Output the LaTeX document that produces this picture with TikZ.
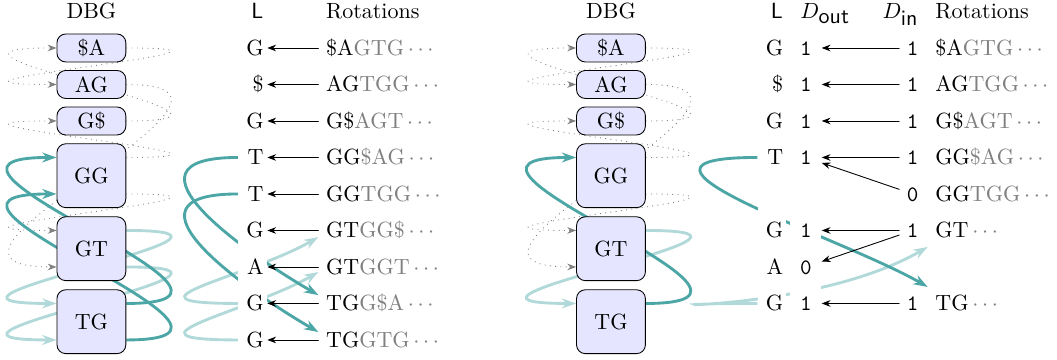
\documentclass[tikz,border=0pt]{standalone}
\usetikzlibrary{backgrounds,arrows.meta}
\colorlet{dteal}{teal!70}
\colorlet{lteal}{teal!30}
\newcommand{\rotn}[2]{#1\textcolor{gray}{#2\,$\cdots$}}
\begin{document}
\begin{tikzpicture}[>={Stealth[length=4pt,width=3pt]},line join=round,line cap=round,x=1cm,y=0.583cm,
	kmer/.style={draw,rounded corners=4pt,fill=blue!10,minimum width=1.1cm,minimum height=0.447cm,inner sep=0pt},
	kmerbig/.style={kmer,minimum height=1.02cm},
	txt/.style={text height=7.5pt,text depth=1pt},
	lcol/.style={txt,fill=white,anchor=east,text width=10pt,align=right,inner xsep=1.5pt,minimum height=17pt},
	ocol/.style={txt,fill=white,anchor=west,minimum width=14pt,minimum height=17pt,font=\ttfamily},
	icol/.style={txt,anchor=east,font=\ttfamily},
	rotcol/.style={txt,anchor=west},
	dbgedge/.style={->,gray,dotted},
	lfdark/.style={-{Stealth[length=6.5pt,width=4.5pt]},dteal,line width=1.3pt},
	lflight/.style={-{Stealth[length=6.5pt,width=4.5pt]},lteal,line width=1.3pt}]
	\useasboundingbox (0,0.315) rectangle (16.885,-9.548);
	% left: BWT rows
	\path (1.46,0) node[txt] (lhd) {DBG}
	(4.11,0) node[txt] (lhl) {\textsf{L}}
	(5.086,0) node[rotcol] (lhr) {Rotations};
	\node[kmer] (lsA) at (1.46,-1) {\$A};
	\node[kmer] (lAG) at (1.46,-2) {AG};
	\node[kmer] (lGs) at (1.46,-3) {G\$};
	\node[kmerbig] (lGG) at (1.46,-4.5) {GG};
	\node[kmerbig] (lGT) at (1.46,-6.5) {GT};
	\node[kmerbig] (lTG) at (1.46,-8.5) {TG};
	\path (4.27,-1) node[lcol] (lL1) {G}
	++(0,-1) node[lcol] (lL2) {\$}
	++(0,-1) node[lcol] (lL3) {G}
	++(0,-1) node[lcol] (lL4) {T}
	++(0,-1) node[lcol] (lL5) {T}
	++(0,-1) node[lcol] (lL6) {G}
	++(0,-1) node[lcol] (lL7) {A}
	++(0,-1) node[lcol] (lL8) {G}
	++(0,-1) node[lcol] (lL9) {G};
	\path (5.086,-1) node[rotcol] (lR1) {\rotn{\$A}{GTG}}
	++(0,-1) node[rotcol] (lR2) {\rotn{AG}{TGG}}
	++(0,-1) node[rotcol] (lR3) {\rotn{G\$}{AGT}}
	++(0,-1) node[rotcol] (lR4) {\rotn{GG}{\$AG}}
	++(0,-1) node[rotcol] (lR5) {\rotn{GG}{TGG}}
	++(0,-1) node[rotcol] (lR6) {\rotn{GT}{GG\$}}
	++(0,-1) node[rotcol] (lR7) {\rotn{GT}{GGT}}
	++(0,-1) node[rotcol] (lR8) {\rotn{TG}{G\$A}}
	++(0,-1) node[rotcol] (lR9) {\rotn{TG}{GTG}};
	\draw[->] (lR1)--(lL1);
	\draw[->] (lR2)--(lL2);
	\draw[->] (lR3)--(lL3);
	\draw[->] (lR4)--(lL4);
	\draw[->] (lR5)--(lL5);
	\draw[->] (lR6)--(lL6);
	\draw[->] (lR7)--(lL7);
	\draw[->] (lR8)--(lL8);
	\draw[->] (lR9)--(lL9);
	\begin{pgfonlayer}{background}
		\draw[dbgedge] (lGs.east) .. controls +(2.875,0) and +(-2.875,0) .. (lsA.west);
		\draw[dbgedge] (lsA.east) .. controls +(2.875,0) and +(-2.875,0) .. (lAG.west);
		\draw[dbgedge] (lGG.east |- lL4) .. controls +(2.875,0) and +(-2.875,0) .. (lGs.west);
		\draw[dbgedge] (lGG.east |- lL5) .. controls +(2.875,0) and +(-2.875,0) .. (lGT.west |- lL6);
		\draw[dbgedge] (lAG.east) .. controls +(2.875,0) and +(-2.875,0) .. (lGT.west |- lL7);
		\draw[lflight] (lGT.east |- lL6) .. controls +(2.875,0) and +(-2.875,0) .. (lTG.west |- lL8);
		\draw[lflight] (lGT.east |- lL7) .. controls +(2.875,0) and +(-2.875,0) .. (lTG.west |- lL9);
		\draw[lfdark] (lTG.east |- lL8) .. controls +(2.875,0) and +(-2.875,0) .. (lGG.west |- lL4);
		\draw[lfdark] (lTG.east |- lL9) .. controls +(2.875,0) and +(-2.875,0) .. (lGG.west |- lL5);
		\draw[lflight] (lL8.west) .. controls +(-2.08,0) and +(210:1.28cm) .. ([yshift=-3pt]lR6.west);
		\draw[lflight] (lL9.west) .. controls +(-2.08,0) and +(210:1.28cm) .. ([yshift=-2.3pt]lR7.west);
		\draw[lfdark] (lL4.west) .. controls +(-2.08,0) and +(150:1.28cm) .. ([yshift=3.8pt]lR8.west);
		\draw[lfdark] (lL5.west) .. controls +(-2.08,0) and +(150:1.28cm) .. ([yshift=3.6pt]lR9.west);
	\end{pgfonlayer}
	% right: with D_out / D_in
	\begin{scope}[shift={(8.3,0)}]
		\path (1.46,0) node[txt] (rhd) {DBG}
		(4.11,0) node[txt] (rhl) {\textsf{L}}
		(4.363,0) node[txt,anchor=west] (rho) {$D_{\textsf{out}}$}
		(6.497,0) node[txt,anchor=east] (rhi) {$D_{\textsf{in}}$}
		(6.519,0) node[rotcol] (rhr) {Rotations};
		\node[kmer] (rsA) at (1.46,-1) {\$A};
		\node[kmer] (rAG) at (1.46,-2) {AG};
		\node[kmer] (rGs) at (1.46,-3) {G\$};
		\node[kmerbig] (rGG) at (1.46,-4.5) {GG};
		\node[kmerbig] (rGT) at (1.46,-6.5) {GT};
		\node[kmerbig] (rTG) at (1.46,-8.5) {TG};
		\path (4.27,-1) node[lcol] (rL1) {G}
		++(0,-1) node[lcol] (rL2) {\$}
		++(0,-1) node[lcol] (rL3) {G}
		++(0,-1) node[lcol] (rL4) {T}
		++(0,-1) node[lcol] (rL5) {}
		++(0,-1) node[lcol] (rL6) {G}
		++(0,-1) node[lcol] (rL7) {A}
		++(0,-1) node[lcol] (rL8) {G};
		\path (4.32,-1) node[ocol] (rO1) {1}
		++(0,-1) node[ocol] (rO2) {1}
		++(0,-1) node[ocol] (rO3) {1}
		++(0,-1) node[ocol] (rO4) {1}
		++(0,-1) node[ocol] (rO5) {}
		++(0,-1) node[ocol] (rO6) {1}
		++(0,-1) node[ocol] (rO7) {0}
		++(0,-1) node[ocol] (rO8) {1};
		\path (6.497,-1) node[icol] (rI1) {1}
		++(0,-1) node[icol] (rI2) {1}
		++(0,-1) node[icol] (rI3) {1}
		++(0,-1) node[icol] (rI4) {1}
		++(0,-1) node[icol] (rI5) {0}
		++(0,-1) node[icol] (rI6) {1}
		(6.497,-8) node[icol] (rI8) {1};
		\path (6.519,-1) node[rotcol] (rR1) {\rotn{\$A}{GTG}}
		++(0,-1) node[rotcol] (rR2) {\rotn{AG}{TGG}}
		++(0,-1) node[rotcol] (rR3) {\rotn{G\$}{AGT}}
		++(0,-1) node[rotcol] (rR4) {\rotn{GG}{\$AG}}
		++(0,-1) node[rotcol] (rR5) {\rotn{GG}{TGG}}
		++(0,-1) node[rotcol] (rR6) {\rotn{GT}{}}
		(6.519,-8) node[rotcol] (rR8) {\rotn{TG}{}};
		\draw[->] (rI1)--(rO1);
		\draw[->] (rI2)--(rO2);
		\draw[->] (rI3)--(rO3);
		\draw[->] (rI4)--(rO4);
		\draw[->] (rI5)--(rO4);
		\draw[->] (rI6)--(rO6);
		\draw[->] (rI6)--(rO7);
		\draw[->] (rI8)--(rO8);
		\begin{pgfonlayer}{background}
			\draw[dbgedge] (rGs.east) .. controls +(2.875,0) and +(-2.875,0) .. (rsA.west);
			\draw[dbgedge] (rsA.east) .. controls +(2.875,0) and +(-2.875,0) .. (rAG.west);
			\draw[dbgedge] (rGG.east |- rL4) .. controls +(2.875,0) and +(-2.875,0) .. (rGs.west);
			\draw[dbgedge] (rGG.east |- rL5) .. controls +(2.875,0) and +(-2.875,0) .. (rGT.west |- rL6);
			\draw[dbgedge] (rAG.east) .. controls +(2.875,0) and +(-2.875,0) .. (rGT.west |- rL7);
			\draw[lflight] (rGT.east |- rL6) .. controls +(2.875,0) and +(-2.875,0) .. (rTG.west |- rL8);
			\draw[lfdark] (rTG.east |- rL8) .. controls +(2.875,0) and +(-2.875,0) .. (rGG.west |- rL4);
			\draw[lflight] (rL8.west) .. controls +(-2.72,0) and +(210:2.24cm) .. ([yshift=-7.5pt]rR6.west);
			\draw[lfdark] (rL4.west) .. controls +(-2.72,0) and +(150:1.6cm) .. ([yshift=7.5pt]rR8.west);
		\end{pgfonlayer}
	\end{scope}
\end{tikzpicture}
\end{document}
